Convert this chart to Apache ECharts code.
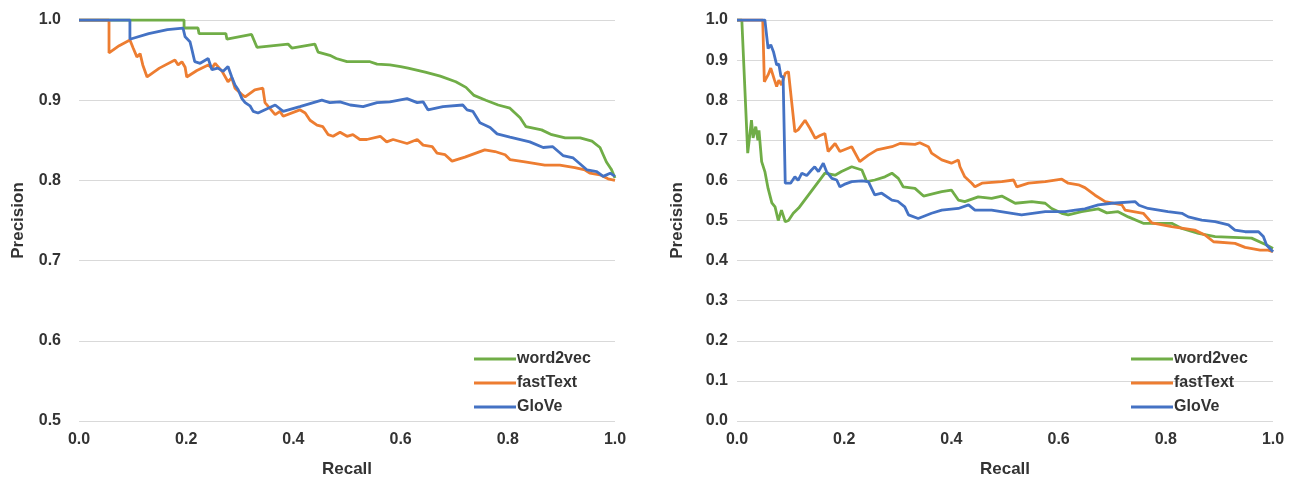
<!DOCTYPE html>
<html>
<head>
<meta charset="utf-8">
<script src="https://cdn.jsdelivr.net/npm/echarts@6/dist/echarts.min.js"></script>
<style>
html,body{margin:0;padding:0;background:#fff;}
#chart{width:1298px;height:483px;}
</style>
</head>
<body>
<div id="chart"></div>
<script>
// ---- Data: [recall, precision] pairs ----
var seriesNames = ['word2vec', 'fastText', 'GloVe'];
var xTicks = [0.0, 0.2, 0.4, 0.6, 0.8, 1.0];

// Left panel
var leftWord2vec = [[0,1.0],[0.196,1.0],[0.196,0.99],[0.222,0.99],[0.224,0.983],[0.274,0.983],[0.276,0.976],[0.322,0.982],[0.332,0.966],[0.39,0.97],[0.397,0.965],[0.44,0.97],[0.446,0.96],[0.468,0.956],[0.48,0.952],[0.5,0.948],[0.543,0.948],[0.556,0.945],[0.58,0.944],[0.6,0.942],[0.614,0.94],[0.646,0.935],[0.674,0.93],[0.703,0.923],[0.722,0.916],[0.737,0.906],[0.759,0.9],[0.782,0.894],[0.804,0.89],[0.823,0.878],[0.834,0.867],[0.863,0.863],[0.882,0.857],[0.907,0.853],[0.935,0.853],[0.957,0.849],[0.972,0.841],[0.984,0.823],[0.993,0.814],[1.0,0.803]];
var leftFastText = [[0,1.0],[0.056,1.0],[0.056,0.959],[0.075,0.968],[0.095,0.975],[0.101,0.965],[0.108,0.954],[0.114,0.958],[0.119,0.944],[0.127,0.929],[0.15,0.94],[0.179,0.95],[0.185,0.944],[0.192,0.948],[0.198,0.941],[0.201,0.929],[0.22,0.937],[0.241,0.944],[0.248,0.94],[0.254,0.946],[0.267,0.936],[0.278,0.923],[0.285,0.928],[0.291,0.915],[0.304,0.907],[0.31,0.904],[0.328,0.913],[0.343,0.915],[0.347,0.897],[0.366,0.882],[0.375,0.886],[0.381,0.88],[0.412,0.888],[0.422,0.884],[0.431,0.875],[0.444,0.869],[0.455,0.867],[0.465,0.857],[0.474,0.855],[0.487,0.86],[0.5,0.855],[0.511,0.857],[0.524,0.851],[0.537,0.851],[0.562,0.855],[0.574,0.848],[0.586,0.851],[0.612,0.846],[0.631,0.851],[0.642,0.844],[0.659,0.842],[0.668,0.834],[0.683,0.832],[0.696,0.824],[0.72,0.829],[0.757,0.838],[0.776,0.836],[0.795,0.832],[0.804,0.826],[0.832,0.823],[0.869,0.819],[0.897,0.819],[0.925,0.816],[0.944,0.813],[0.953,0.809],[0.972,0.807],[0.987,0.802],[1.0,0.8]];
var leftGloVe = [[0,1.0],[0.095,1.0],[0.095,0.976],[0.13,0.983],[0.165,0.988],[0.194,0.99],[0.198,0.979],[0.207,0.973],[0.21,0.965],[0.216,0.948],[0.226,0.946],[0.241,0.952],[0.248,0.938],[0.259,0.94],[0.269,0.936],[0.278,0.942],[0.285,0.929],[0.291,0.919],[0.297,0.913],[0.304,0.902],[0.31,0.897],[0.319,0.893],[0.325,0.886],[0.334,0.884],[0.353,0.89],[0.366,0.894],[0.381,0.886],[0.412,0.892],[0.453,0.9],[0.468,0.897],[0.487,0.898],[0.506,0.894],[0.53,0.892],[0.556,0.897],[0.58,0.898],[0.612,0.902],[0.631,0.897],[0.642,0.898],[0.651,0.888],[0.679,0.892],[0.716,0.894],[0.724,0.888],[0.735,0.886],[0.748,0.872],[0.767,0.866],[0.78,0.858],[0.804,0.854],[0.841,0.848],[0.866,0.841],[0.884,0.842],[0.903,0.831],[0.922,0.828],[0.948,0.813],[0.966,0.811],[0.978,0.805],[0.991,0.809],[1.0,0.805]];

// Right panel
var rightWord2vec = [[0,1.0],[0.009,1.0],[0.02,0.668],[0.027,0.75],[0.03,0.706],[0.035,0.734],[0.039,0.70],[0.041,0.725],[0.046,0.647],[0.052,0.622],[0.058,0.58],[0.065,0.544],[0.071,0.534],[0.077,0.50],[0.083,0.526],[0.09,0.497],[0.096,0.5],[0.105,0.518],[0.115,0.531],[0.164,0.618],[0.183,0.613],[0.195,0.622],[0.214,0.634],[0.233,0.626],[0.242,0.597],[0.257,0.601],[0.276,0.609],[0.289,0.618],[0.301,0.605],[0.31,0.584],[0.332,0.58],[0.348,0.561],[0.363,0.566],[0.382,0.572],[0.4,0.576],[0.413,0.551],[0.425,0.547],[0.45,0.559],[0.475,0.555],[0.494,0.561],[0.519,0.543],[0.55,0.547],[0.575,0.543],[0.587,0.53],[0.606,0.518],[0.618,0.514],[0.643,0.522],[0.674,0.529],[0.69,0.519],[0.711,0.522],[0.73,0.509],[0.758,0.493],[0.811,0.493],[0.83,0.48],[0.861,0.468],[0.892,0.46],[0.96,0.456],[0.988,0.439],[1.0,0.43]];
var rightFastText = [[0,1.0],[0.048,1.0],[0.051,0.846],[0.058,0.863],[0.063,0.88],[0.07,0.85],[0.074,0.834],[0.078,0.85],[0.083,0.838],[0.09,0.867],[0.096,0.871],[0.102,0.796],[0.108,0.721],[0.114,0.726],[0.127,0.75],[0.136,0.73],[0.146,0.705],[0.155,0.712],[0.164,0.717],[0.17,0.672],[0.183,0.692],[0.192,0.672],[0.214,0.684],[0.229,0.647],[0.245,0.663],[0.261,0.676],[0.289,0.684],[0.304,0.692],[0.332,0.69],[0.341,0.694],[0.357,0.684],[0.363,0.668],[0.382,0.651],[0.4,0.643],[0.413,0.651],[0.416,0.634],[0.425,0.609],[0.438,0.593],[0.444,0.584],[0.457,0.593],[0.494,0.597],[0.516,0.601],[0.522,0.584],[0.544,0.593],[0.575,0.597],[0.606,0.603],[0.618,0.593],[0.637,0.589],[0.649,0.582],[0.668,0.563],[0.687,0.547],[0.718,0.539],[0.724,0.526],[0.758,0.518],[0.774,0.494],[0.811,0.485],[0.854,0.476],[0.873,0.464],[0.889,0.447],[0.929,0.443],[0.948,0.433],[0.976,0.426],[0.991,0.426],[1.0,0.422]];
var rightGloVe = [[0,1.0],[0.052,1.0],[0.058,0.929],[0.063,0.938],[0.068,0.921],[0.074,0.888],[0.078,0.89],[0.082,0.859],[0.086,0.859],[0.09,0.593],[0.1,0.593],[0.108,0.609],[0.114,0.6],[0.121,0.618],[0.13,0.612],[0.139,0.626],[0.145,0.634],[0.152,0.622],[0.161,0.643],[0.167,0.622],[0.177,0.605],[0.186,0.601],[0.192,0.584],[0.2,0.59],[0.214,0.597],[0.233,0.599],[0.245,0.597],[0.257,0.564],[0.27,0.568],[0.289,0.551],[0.3,0.548],[0.313,0.534],[0.32,0.514],[0.338,0.505],[0.363,0.518],[0.382,0.526],[0.413,0.53],[0.432,0.539],[0.444,0.526],[0.475,0.526],[0.513,0.518],[0.531,0.514],[0.575,0.522],[0.612,0.522],[0.631,0.526],[0.649,0.529],[0.674,0.539],[0.699,0.543],[0.743,0.547],[0.75,0.538],[0.767,0.53],[0.804,0.522],[0.83,0.518],[0.842,0.509],[0.867,0.501],[0.892,0.497],[0.917,0.489],[0.929,0.476],[0.948,0.472],[0.973,0.472],[0.982,0.46],[0.988,0.439],[1.0,0.422]];

var leftYMin = 0.5, leftYMax = 1.0;
var rightYMin = 0.0, rightYMax = 1.0;

// ---- Chart ----
var colors = ['#70AD47', '#ED7D31', '#4472C4'];
var txt = '#333333';
var font = 'Liberation Sans, Arial, sans-serif';

function xAxis(idx) {
  return {
    gridIndex: idx, type: 'value', min: 0, max: 1, interval: 0.2,
    name: 'Recall', nameLocation: 'middle', nameGap: 40,
    nameTextStyle: {fontSize: 17, fontWeight: 'bold', color: txt, fontFamily: font},
    axisLine: {show: false}, axisTick: {show: false}, splitLine: {show: false},
    axisLabel: {margin: 11, fontSize: 16, fontWeight: 'bold', color: txt, fontFamily: font,
      formatter: function (v) { return v.toFixed(1); }}
  };
}
function yAxis(idx, mn, mx, margin, gap) {
  return {
    gridIndex: idx, type: 'value', min: mn, max: mx, interval: 0.1,
    name: 'Precision', nameLocation: 'middle', nameGap: gap, nameRotate: 90,
    nameTextStyle: {fontSize: 17, fontWeight: 'bold', color: txt, fontFamily: font},
    axisLine: {show: false}, axisTick: {show: false},
    splitLine: {show: true, lineStyle: {color: '#D9D9D9', width: 1}},
    axisLabel: {margin: margin, fontSize: 16, fontWeight: 'bold', color: txt, fontFamily: font,
      formatter: function (v) { return v.toFixed(1); }}
  };
}
function line(name, data, idx, c) {
  return {
    name: name, type: 'line', xAxisIndex: idx, yAxisIndex: idx, data: data,
    showSymbol: false, symbol: 'none', animation: false,
    lineStyle: {color: c, width: 2.8}, itemStyle: {color: c}
  };
}
function legend(left) {
  return {
    data: seriesNames, orient: 'vertical', left: left, top: 346,
    icon: 'rect', itemWidth: 42, itemHeight: 3, itemGap: 8,
    textStyle: {fontSize: 16, fontWeight: 'bold', color: txt, fontFamily: font, padding: [0,0,0,-4]},
    selectedMode: false
  };
}

var chart = echarts.init(document.getElementById('chart'), null, {renderer: 'canvas'});
chart.setOption({
  animation: false,
  backgroundColor: '#ffffff',
  color: colors,
  grid: [
    {left: 79, top: 20, width: 536, height: 401},
    {left: 737, top: 20, width: 536, height: 401}
  ],
  xAxis: [xAxis(0), xAxis(1)],
  yAxis: [yAxis(0, leftYMin, leftYMax, 18, 52), yAxis(1, rightYMin, rightYMax, 9, 51)],
  legend: [legend(469), legend(1126)],
  series: [
    line(seriesNames[0], leftWord2vec, 0, colors[0]),
    line(seriesNames[1], leftFastText, 0, colors[1]),
    line(seriesNames[2], leftGloVe, 0, colors[2]),
    line(seriesNames[0], rightWord2vec, 1, colors[0]),
    line(seriesNames[1], rightFastText, 1, colors[1]),
    line(seriesNames[2], rightGloVe, 1, colors[2])
  ]
});
</script>
</body>
</html>
